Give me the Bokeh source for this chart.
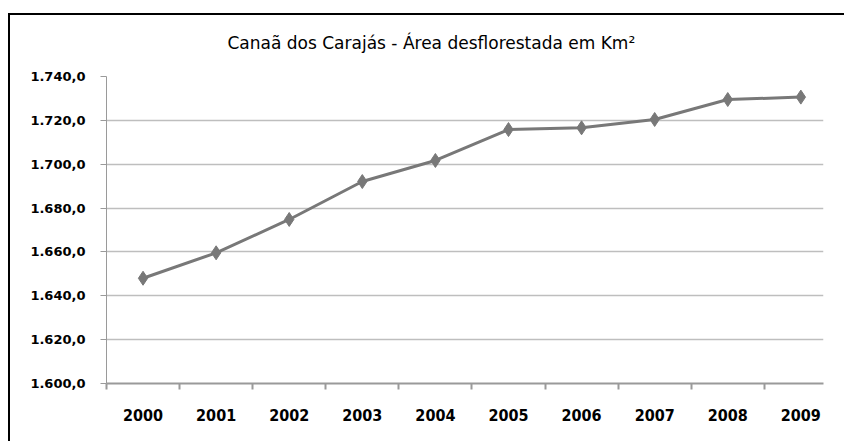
from bokeh.plotting import figure
from bokeh.models import FixedTicker, Title
from bokeh.embed import file_html
from bokeh.resources import INLINE

# ---- data ----
years = ["2000", "2001", "2002", "2003", "2004", "2005", "2006", "2007", "2008", "2009"]
area_km2 = [1648.0, 1659.6, 1674.8, 1692.1, 1701.7, 1715.8, 1716.6, 1720.4, 1729.5, 1730.6]
y_ticks = [1600, 1620, 1640, 1660, 1680, 1700, 1720, 1740]
y_tick_labels = ["1.600,0", "1.620,0", "1.640,0", "1.660,0", "1.680,0", "1.700,0", "1.720,0", "1.740,0"]
title_text = "Canaã dos Carajás - Área desflorestada em Km²"

xs = list(range(len(years)))

p = figure(width=836, height=432, output_backend="svg", toolbar_location=None,
           x_range=(-0.5, 9.31), y_range=(1600, 1740),
           min_border_left=98, min_border_right=21, min_border_top=67, min_border_bottom=58)
p.margin = (9, 0, 0, 8)
p.styles = {
    "background-color": "white",
    "background-image": "linear-gradient(#000, #000), linear-gradient(#000, #000)",
    "background-size": "100% 2px, 2px 100%",
    "background-position": "0 4px, 0 4px",
    "background-repeat": "no-repeat",
}

p.outline_line_color = None
p.background_fill_color = "white"
p.border_fill_color = None

t = Title(text=title_text, align="left", offset=121, text_font="DejaVu Sans",
          text_font_size="17px", text_font_style="normal", text_color="black",
          vertical_align="top", standoff=44)
p.add_layout(t, "above")

p.line(xs, area_km2, line_color="#787878", line_width=3)
p.scatter(xs, area_km2, marker="diamond", size=14, fill_color="#787878", line_color="#787878")

# y axis
p.yaxis.ticker = FixedTicker(ticks=y_ticks)
p.yaxis.major_label_overrides = {v: s for v, s in zip(y_ticks, y_tick_labels)}
p.yaxis.major_label_text_font = "DejaVu Sans"
p.yaxis.major_label_text_font_style = "bold"
p.yaxis.major_label_text_font_size = "13px"
p.yaxis.major_label_text_color = "black"
p.yaxis.major_tick_out = 6
p.yaxis.major_tick_in = 0
p.yaxis.minor_tick_line_color = None
p.yaxis.major_label_standoff = 15
p.yaxis.axis_line_color = "#9a9a9a"
p.yaxis.major_tick_line_color = "#9a9a9a"

# x axis
p.xaxis.ticker = FixedTicker(ticks=xs, minor_ticks=[i - 0.5 for i in xs])
p.xaxis.major_label_overrides = {i: y for i, y in zip(xs, years)}
p.xaxis.major_tick_in = 0
p.xaxis.major_tick_out = 0
p.xaxis.minor_tick_in = 0
p.xaxis.minor_tick_out = 6
p.xaxis.minor_tick_line_color = "#9a9a9a"
p.xaxis.minor_tick_line_width = 2
p.xaxis.axis_line_color = "#9a9a9a"
p.xaxis.axis_line_width = 2
p.xaxis.major_label_standoff = 19
p.xaxis.major_label_text_font = "DejaVu Sans Condensed"
p.xaxis.major_label_text_font_style = "bold"
p.xaxis.major_label_text_font_size = "16px"
p.xaxis.major_label_text_color = "black"

p.xgrid.grid_line_color = None
p.ygrid.ticker = FixedTicker(ticks=y_ticks)
p.ygrid.grid_line_color = "#bebebe"
p.ygrid.grid_line_width = 1.5

open("out.html", "w").write(file_html(p, INLINE))
